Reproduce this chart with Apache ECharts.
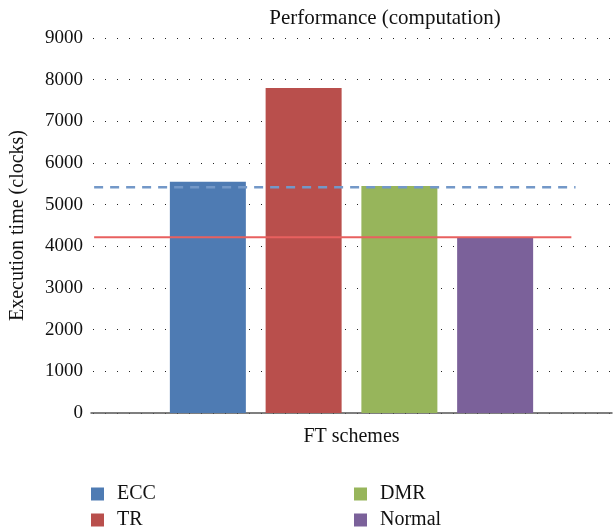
<!DOCTYPE html>
<html>
<head>
<meta charset="utf-8">
<script src="https://cdn.jsdelivr.net/npm/echarts@6/dist/echarts.min.js"></script>
<style>
  html, body { margin: 0; padding: 0; background: #fff; }
  #chart { width: 616px; height: 531px; }
</style>
</head>
<body>
<div id="chart"></div>
<script>
// Execution time of each fault-tolerance scheme
const schemes = ['ECC', 'TR', 'DMR', 'Normal'];
const execClocks = [5550, 7800, 5450, 4220];
const schemeColors = ['#4E7BB3', '#B94F4C', '#97B55B', '#7B619A'];

// Reference levels drawn across the bars
const dashedLevel = 5420;
const solidLevel = 4220;
// Horizontal extent of the reference lines, as a fraction of the category band
const dashedSpan = [0.006, 0.93];
const solidSpan = [0.006, 0.922];

const yTicks = { min: 0, max: 9000, interval: 1000 };

const FONT = '"Liberation Serif", "DejaVu Serif", serif';

const chart = echarts.init(document.getElementById('chart'), null, { renderer: 'canvas' });

const barSeries = schemes.map((name, i) => ({
  name: name,
  type: 'bar',
  xAxisIndex: 0,
  data: [execClocks[i]],
  barWidth: 76,
  barGap: '26%',
  itemStyle: { color: schemeColors[i] },
  z: 2
}));

// One legend entry per scheme, laid out in two columns
const legendSlots = [
  { left: 91, top: 484 },
  { left: 91, top: 510 },
  { left: 354, top: 484 },
  { left: 354, top: 510 }
];
const legends = schemes.map((name, i) => ({
  data: [name],
  left: legendSlots[i].left,
  top: legendSlots[i].top,
  itemWidth: 13,
  itemHeight: 13,
  icon: 'rect',
  padding: 0,
  textStyle: { fontFamily: FONT, fontSize: 20, color: '#111', padding: [0, 0, 0, 8] }
}));

const option = {
  animation: false,
  backgroundColor: '#ffffff',
  title: {
    text: 'Performance (computation)',
    left: 380,
    textAlign: 'center',
    top: 3,
    textStyle: { fontFamily: FONT, fontSize: 21, fontWeight: 'normal', color: '#111' }
  },
  grid: { left: 90, right: 4, top: 38, bottom: 118, containLabel: false },
  legend: legends,
  xAxis: [
    {
      type: 'category',
      data: [''],
      name: 'FT schemes',
      nameLocation: 'middle',
      nameGap: 14,
      nameTextStyle: { fontFamily: FONT, fontSize: 20, color: '#111' },
      axisLine: { show: true, lineStyle: { color: '#555', width: 1.5 } },
      axisTick: { show: false },
      axisLabel: { show: false },
      splitLine: { show: false }
    },
    {
      type: 'value',
      min: 0,
      max: 1,
      show: false,
      splitLine: { show: false }
    }
  ],
  yAxis: {
    type: 'value',
    min: yTicks.min,
    max: yTicks.max,
    interval: yTicks.interval,
    name: 'Execution time (clocks)',
    nameLocation: 'middle',
    nameGap: 63,
    nameTextStyle: { fontFamily: FONT, fontSize: 20, color: '#111' },
    axisLine: { show: false },
    axisTick: { show: false },
    axisLabel: {
      fontFamily: FONT, fontSize: 19, color: '#111', margin: 8,
      formatter: (v) => String(v)
    },
    splitLine: {
      show: true,
      lineStyle: { color: '#222', width: 1, type: [1, 11], dashOffset: -2 }
    }
  },
  series: barSeries.concat([
    {
      name: 'dashed-level',
      type: 'line',
      xAxisIndex: 1,
      data: [[dashedSpan[0], dashedLevel], [dashedSpan[1], dashedLevel]],
      symbol: 'none',
      lineStyle: { color: '#7398C8', width: 2.5, type: [9, 7] },
      z: 5,
      silent: true
    },
    {
      name: 'solid-level',
      type: 'line',
      xAxisIndex: 1,
      data: [[solidSpan[0], solidLevel], [solidSpan[1], solidLevel]],
      symbol: 'none',
      lineStyle: { color: '#E8605F', width: 2 },
      z: 5,
      silent: true
    }
  ])
};

chart.setOption(option);
</script>
</body>
</html>
